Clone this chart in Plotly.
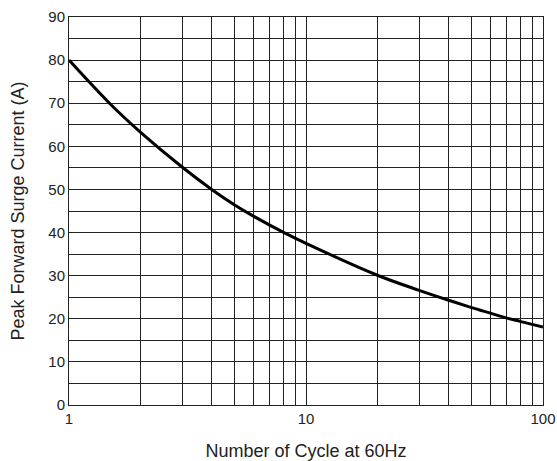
import plotly.graph_objects as go

cycles = [1, 1.5, 2, 3, 4, 5, 6, 8, 10, 20, 30, 40, 50, 60, 70, 80, 90, 100]
current = [80, 69.7, 63.3, 55.2, 50.0, 46.4, 43.8, 40.1, 37.5, 30.1, 26.6, 24.3, 22.6, 21.3, 20.2, 19.4, 18.7, 18.1]

x_grid = [1, 2, 3, 4, 5, 6, 7, 8, 9, 10, 20, 30, 40, 50, 60, 70, 80, 90, 100]
x_labels = ["1", "", "", "", "", "", "", "", "", "10", "", "", "", "", "", "", "", "", "100"]
y_grid = [0, 5, 10, 15, 20, 25, 30, 35, 40, 45, 50, 55, 60, 65, 70, 75, 80, 85, 90]
y_labels = ["0", "", "10", "", "20", "", "30", "", "40", "", "50", "", "60", "", "70", "", "80", "", "90"]

fig = go.Figure()
fig.add_trace(go.Scatter(
    x=cycles, y=current, mode="lines",
    line=dict(color="black", width=3, shape="spline", smoothing=1.0),
    showlegend=False, hoverinfo="skip",
))

font = "Liberation Sans, Arial, sans-serif"
fig.update_layout(
    width=557, height=461,
    margin=dict(l=69, r=14, t=17, b=56),
    paper_bgcolor="white", plot_bgcolor="white",
    font=dict(family=font, color="#222", size=15),
    xaxis=dict(
        type="log", range=[0, 2], automargin=False,
        tickvals=x_grid, ticktext=x_labels,
        showgrid=True, gridcolor="#222", gridwidth=1,
        showline=True, linecolor="#222", linewidth=1, mirror=True,
        ticks="", zeroline=False,
        tickfont=dict(size=15),
        title=dict(text="Number of Cycle at 60Hz", font=dict(size=18), standoff=19),
    ),
    yaxis=dict(
        range=[0, 90], automargin=False,
        tickvals=y_grid, ticktext=y_labels,
        showgrid=True, gridcolor="#222", gridwidth=1,
        showline=True, linecolor="#222", linewidth=1, mirror=True,
        ticks="", zeroline=False,
        tickfont=dict(size=15),
        title=dict(text="Peak Forward Surge Current (A)", font=dict(size=18), standoff=19),
    ),
)

fig.write_html(
    "out.html",
    config={"displayModeBar": False},
    post_script="document.body.style.margin='0';document.body.style.overflow='hidden';",
)
